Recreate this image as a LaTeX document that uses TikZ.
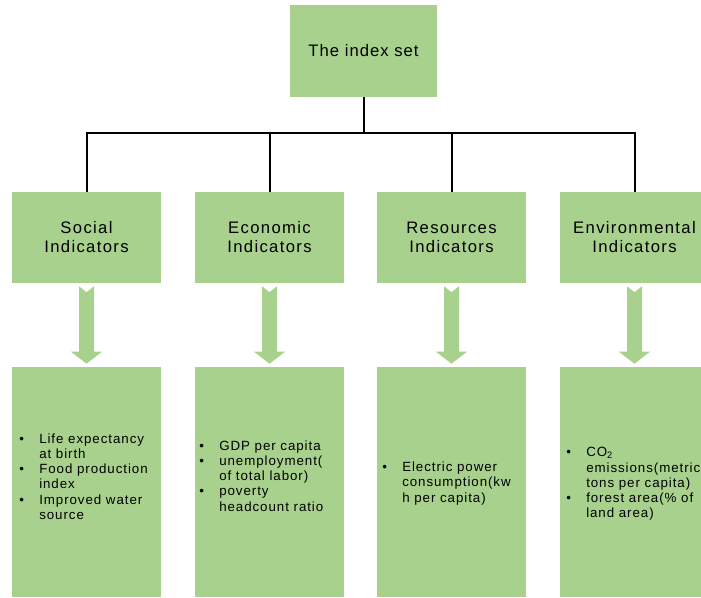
\documentclass[tikz,border=0pt]{standalone}
\usepackage{fontspec}
\setmainfont{Liberation Sans}
\usetikzlibrary{calc}
\definecolor{boxgreen}{RGB}{169,209,142}
\tikzset{
	box/.style={fill=boxgreen, inner sep=0pt, align=center, minimum width=111.75pt},
	topbox/.style={box, minimum width=110.25pt, minimum height=69pt, font=\fontsize{12.5}{15}\selectfont\addfontfeature{LetterSpace=6}},
	catbox/.style={box, minimum height=68.25pt, font=\fontsize{12.5}{14.25}\selectfont\addfontfeature{LetterSpace=8}},
	listbox/.style={box, minimum height=172.5pt},
	items/.style={anchor=west, align=left, inner sep=0pt, font=\fontsize{10}{11.4}\selectfont\addfontfeature{LetterSpace=7}},
	link/.style={line width=1.5pt}
}
\newcommand{\itm}{\makebox[15pt][l]{\textbullet}}
\newcommand{\cont}{\hspace*{15pt}}
% green block arrow from one box down to the next
\newcommand{\blockarrow}[2]{%
	\fill[boxgreen] ($(#1.south)+(-7.5,3)$) -- ($(#1.south)+(0,9)$) -- ($(#1.south)+(7.5,3)$)
		-- ($(#2.north)+(7.5,-15)$) -- ($(#2.north)+(15.5,-15)$) -- ($(#2.north)+(0,-3)$)
		-- ($(#2.north)+(-15.5,-15)$) -- ($(#2.north)+(-7.5,-15)$) -- cycle;}

\begin{document}
\begin{tikzpicture}[x=0.75pt, y=-0.75pt]
	\useasboundingbox (0,0) rectangle (701,598);
	\clip (0,0) rectangle (701,598);
	\node[topbox] (top) at (363.5,51) {The index set};
	\node[catbox] (socmid) at (86.5,237.5) {Social\\Indicators};
	\node[catbox] (ecomid) at (269.5,237.5) {Economic\\Indicators};
	\node[catbox] (resmid) at (451.5,237.5) {Resources\\Indicators};
	\node[catbox] (envmid) at (634.5,237.5) {Environmental\\Indicators};
	\node[listbox] (socbot) at (86.5,482) {};
	\node[listbox] (ecobot) at (269.5,482) {};
	\node[listbox] (resbot) at (451.5,482) {};
	\node[listbox] (envbot) at (634.5,482) {};
	% tree lines
	\coordinate (hub) at (363.5,133);
	\draw[link] (top.south) -- (hub);
	\foreach \n in {socmid,ecomid,resmid,envmid}
		\draw[link] (hub) -| (\n.north);
	% arrows
	\foreach \n/\m in {socmid/socbot,ecomid/ecobot,resmid/resbot,envmid/envbot}
		\blockarrow{\n}{\m};
	% lists
	\node[items] (soclist) at (19,476.5) {\itm Life expectancy\\\cont at birth\\\itm Food production\\\cont index\\\itm Improved water\\\cont source};
	\node[items] (ecolist) at (199,476) {\itm GDP per capita\\\itm unemployment(\\\cont of total labor)\\\itm poverty\\\cont headcount ratio};
	\node[items] (reslist) at (382,483.5) {\itm Electric power\\\cont consumption(kw\\\cont h per capita)};
	\node[items] (envlist) at (566,484) {\itm CO\textsubscript{2}\\\cont emissions(metric\\\cont tons per capita)\\\itm forest area(\% of\\\cont land area)};
\end{tikzpicture}
\end{document}
